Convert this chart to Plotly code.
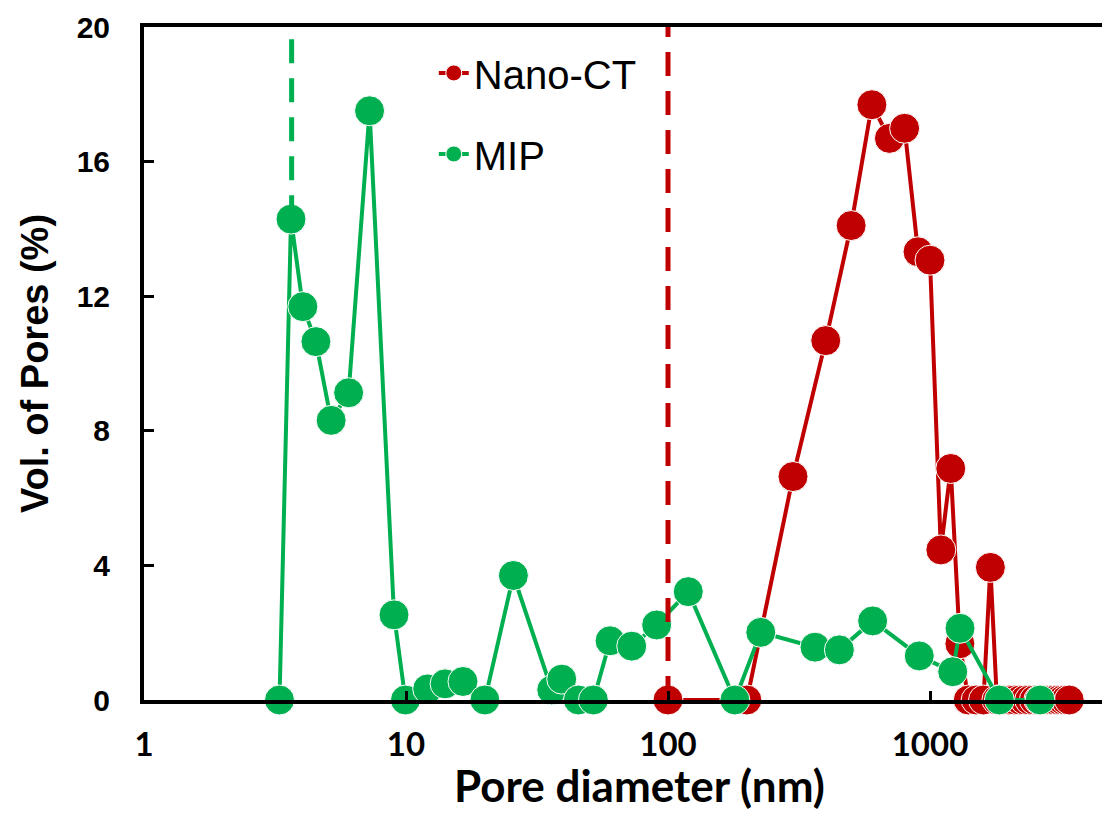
import plotly.graph_objects as go

# Nano-CT pore size distribution (nm, %)
nano_x = [100, 200, 300, 400, 500, 600, 700, 800, 900, 1000, 1100, 1200, 1300,
          1400, 1500, 1600, 1700, 1800, 1900, 2000, 2100, 2200, 2300, 2400, 2500,
          2600, 2700, 2800, 2900, 3000, 3100, 3200, 3300, 3400]
nano_y = [0, 0, 6.64, 10.68, 14.1, 17.69, 16.69, 16.99, 13.32, 13.07, 4.46, 6.88, 1.67,
          0, 0, 0, 3.94, 0, 0, 0, 0, 0, 0, 0, 0,
          0, 0, 0, 0, 0, 0, 0, 0, 0]

# MIP pore size distribution (nm, %)
mip_x = [3.29, 3.64, 4.04, 4.53, 5.18, 6.04, 7.26, 9.0, 9.95, 12.1, 14.1, 16.5, 20.0,
         25.7, 36.0, 39.3, 45.5, 51.9, 60.1, 72.7, 90.5, 119.5, 180, 226, 364, 451,
         604, 910, 1221, 1302, 1840, 2630]
mip_y = [0, 14.29, 11.69, 10.65, 8.31, 9.13, 17.51, 2.53, 0, 0.33, 0.48, 0.55, 0,
         3.7, 0.3, 0.62, 0, 0, 1.76, 1.6, 2.23, 3.22, 0, 2.01, 1.57, 1.49,
         2.35, 1.31, 0.84, 2.13, 0, 0]

# Resolution limits (dashed markers)
mip_limit_x = [3.66, 3.66]
mip_limit_y = [14.29, 20]
ct_limit_x = [100, 100]
ct_limit_y = [0, 20]

x_tickvals = [1, 10, 100, 1000]
x_ticktext = ["1", "10", "100", "1000"]
y_tickvals = [0, 4, 8, 12, 16, 20]

RED = "#C00000"
GREEN = "#00B050"

fig = go.Figure()
fig.add_trace(go.Scatter(
    x=nano_x, y=nano_y, mode="lines+markers", name="Nano-CT",
    legendgroup="a",
    line=dict(color=RED, width=4),
    marker=dict(color=RED, size=30, line=dict(color="white", width=1)),
    cliponaxis=False))
fig.add_trace(go.Scatter(
    x=mip_x, y=mip_y, mode="lines+markers", name="MIP",
    legendgroup="b",
    line=dict(color=GREEN, width=4),
    marker=dict(color=GREEN, size=30, line=dict(color="white", width=1)),
    cliponaxis=False))
fig.add_trace(go.Scatter(
    x=mip_limit_x, y=mip_limit_y, mode="lines", showlegend=False,
    line=dict(color=GREEN, width=5, dash="24px,15px"), cliponaxis=False))
fig.add_trace(go.Scatter(
    x=ct_limit_x, y=ct_limit_y, mode="lines", showlegend=False,
    line=dict(color=RED, width=5, dash="24px,15px"), cliponaxis=False))

fig.update_layout(
    width=1102, height=817,
    margin=dict(l=136, r=0, t=19, b=125, autoexpand=False),
    paper_bgcolor="white", plot_bgcolor="white",
    font=dict(family="Liberation Sans, Arial", color="black"),
    showlegend=True,
    legend=dict(x=0.30, y=0.98, xanchor="left", yanchor="top",
                bgcolor="rgba(0,0,0,0)", traceorder="grouped",
                tracegroupgap=26,
                font=dict(family="Liberation Sans, Arial", size=40, color="black")),
    xaxis=dict(
        type="log", range=[0, 3.687], automargin=False,
        tickvals=x_tickvals, ticktext=x_ticktext,
        tickfont=dict(family="Lato", size=33, color="black", weight="bold"),
        ticks="inside", ticklen=9, tickwidth=3, tickcolor="black",
        ticklabelstandoff=12,
        showline=True, linecolor="black", linewidth=4, mirror=True,
        showgrid=False, zeroline=False,
    ),
    yaxis=dict(
        range=[0, 20], tickvals=y_tickvals, automargin=False,
        tickfont=dict(family="Liberation Sans, Arial", size=30, color="black", weight="bold"),
        ticks="inside", ticklen=10, tickwidth=3, tickcolor="black",
        ticklabelstandoff=24,
        showline=True, linecolor="black", linewidth=4, mirror=False,
        showgrid=False, zeroline=False,
        title=dict(text="<b>Vol. of Pores (%)</b>",
                   font=dict(family="Liberation Sans, Arial", size=38, color="black"),
                   standoff=17),
    ),
    annotations=[dict(
        text="<b>Pore diameter (nm)</b>", xref="paper", yref="paper",
        x=0.513, y=-0.127, xanchor="center", yanchor="middle", showarrow=False,
        font=dict(family="Lato", size=44, color="black"))],
)

fig.write_html("out.html")
